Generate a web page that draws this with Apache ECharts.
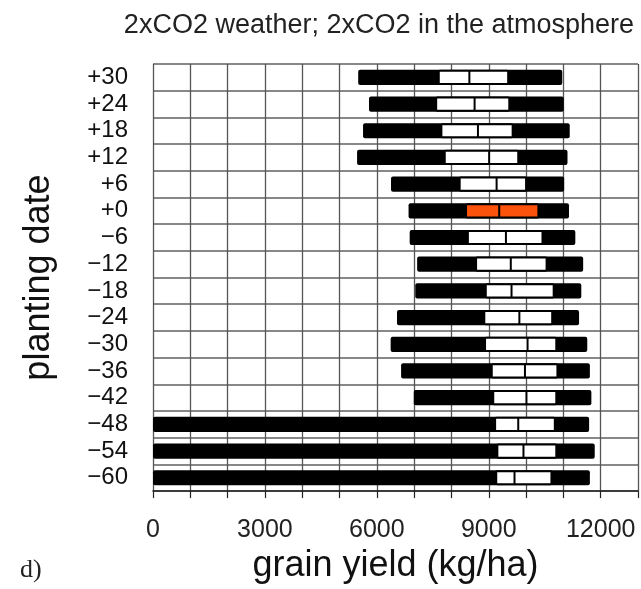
<!DOCTYPE html>
<html>
<head>
<meta charset="utf-8">
<script src="https://cdn.jsdelivr.net/npm/echarts@6/dist/echarts.min.js"></script>
<style>
  html, body { margin: 0; padding: 0; background: #fff; }
  #chart { width: 641px; height: 589px; }
</style>
</head>
<body>
<div id="chart"></div>
<script>
// planting date offsets, top to bottom
var dates = ["+30", "+24", "+18", "+12", "+6", "+0", "\u22126", "\u221212", "\u221218",
  "\u221224", "\u221230", "\u221236", "\u221242", "\u221248", "\u221254", "\u221260"];
// grain yield (kg/ha)
var minVals = [5500, 5790, 5630, 5470, 6380, 6850, 6880, 7080, 7030, 6540, 6370, 6650, 6990, 0, 0, 0];
var q1Vals = [7660, 7590, 7730, 7820, 8220, 8390, 8440, 8660, 8920, 8880, 8900, 9080, 9120, 9170, 9230, 9200];
var medVals = [8480, 8620, 8710, 9010, 9210, 9280, 9460, 9590, 9610, 9820, 10040, 9970, 10010, 9790, 9930, 9690];
var q3Vals = [9520, 9550, 9640, 9790, 10000, 10330, 10440, 10550, 10740, 10700, 10810, 10840, 10810, 10770, 10810, 10680];
var maxVals = [10970, 11010, 11170, 11110, 11020, 11150, 11320, 11530, 11480, 11420, 11640, 11710, 11750, 11690, 11840, 11710];
var xTicks = [0, 3000, 6000, 9000, 12000];
var highlight = "+0";

var rows = dates.map(function (d, i) {
  return [i, minVals[i], q1Vals[i], medVals[i], q3Vals[i], maxVals[i]];
});

function renderItem(params, api) {
  var idx = api.value(0);
  var pMin = api.coord([api.value(1), idx]);
  var pQ1 = api.coord([api.value(2), idx]);
  var pMed = api.coord([api.value(3), idx]);
  var pQ3 = api.coord([api.value(4), idx]);
  var pMax = api.coord([api.value(5), idx]);
  var band = api.size([0, 1])[1];
  var h = band * 0.57;
  var fill = dates[idx] === highlight ? "#fb520c" : "#ffffff";
  return {
    type: "group",
    children: [
      {
        type: "rect",
        shape: { x: pMin[0], y: pMin[1] - h / 2, width: pMax[0] - pMin[0], height: h, r: 2 },
        style: { fill: "#000" }
      },
      {
        type: "rect",
        shape: { x: pQ1[0], y: pQ1[1] - h / 2 + 1, width: pQ3[0] - pQ1[0], height: h - 2, r: 1 },
        style: { fill: fill, stroke: "#000", lineWidth: 2 }
      },
      {
        type: "line",
        shape: { x1: pMed[0], y1: pMed[1] - h / 2 + 1, x2: pMed[0], y2: pMed[1] + h / 2 - 1 },
        style: { stroke: "#000", lineWidth: 2 }
      }
    ]
  };
}

var myChart = echarts.init(document.getElementById("chart"));
var option = {
  backgroundColor: "#fff",
  animation: false,
  title: {
    text: "2xCO2 weather; 2xCO2 in the atmosphere",
    left: 374,
    top: 7,
    textAlign: "center",
    textStyle: { fontFamily: "Liberation Sans", fontSize: 27, fontWeight: "normal", color: "#222" }
  },
  graphic: [
    {
      type: "text",
      left: 20,
      top: 557,
      style: { text: "d)", font: "26px 'Liberation Serif'", fill: "#222" }
    }
  ],
  grid: { left: 153, right: 1, top: 64, bottom: 93 },
  xAxis: {
    type: "value",
    min: 0,
    max: 13000,
    interval: 1000,
    name: "grain yield (kg/ha)",
    nameLocation: "middle",
    nameGap: 51,
    nameTextStyle: { fontFamily: "Liberation Sans", fontSize: 36, color: "#111" },
    axisLine: { show: true, lineStyle: { color: "#222", width: 1.5 } },
    axisTick: { show: true, length: 7, lineStyle: { color: "#222", width: 1.2 } },
    axisLabel: {
      margin: 27,
      fontFamily: "Liberation Sans",
      fontSize: 25,
      color: "#222",
      formatter: function (v) { return xTicks.indexOf(v) >= 0 ? String(v) : ""; }
    },
    splitLine: { show: true, lineStyle: { color: "#555", width: 1.3 } }
  },
  yAxis: {
    type: "category",
    data: dates,
    inverse: true,
    name: "planting date",
    nameLocation: "middle",
    nameGap: 96,
    nameTextStyle: { fontFamily: "Liberation Sans", fontSize: 36, color: "#111" },
    axisLine: { show: false },
    axisTick: { show: false, interval: 0 },
    axisLabel: { interval: 0, margin: 25, fontFamily: "Liberation Sans", fontSize: 24, color: "#111" },
    splitLine: { show: true, interval: 0, lineStyle: { color: "#888", width: 2 } }
  },
  series: [
    {
      type: "custom",
      renderItem: renderItem,
      encode: { x: [1, 2, 3, 4, 5], y: 0 },
      data: rows,
      z: 5
    }
  ]
};
myChart.setOption(option);
</script>
</body>
</html>
